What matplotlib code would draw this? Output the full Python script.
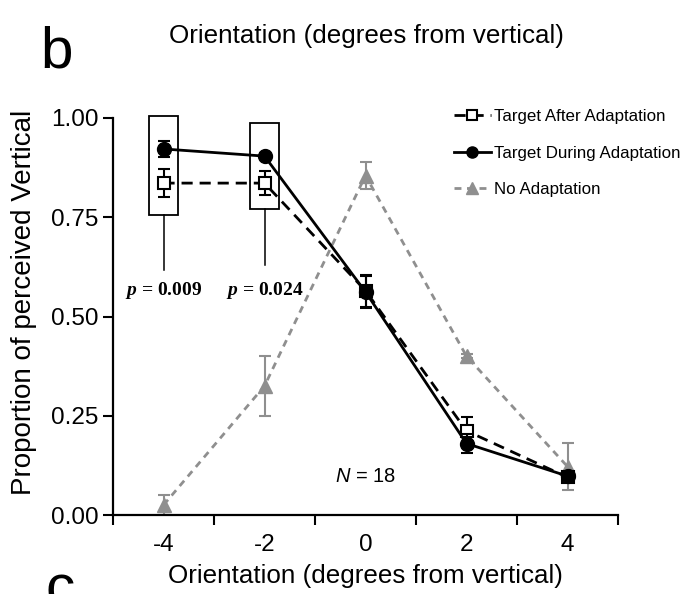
import numpy as np
import matplotlib.pyplot as plt
from matplotlib.patches import Rectangle

plt.rcParams["font.family"] = ["Liberation Sans", "DejaVu Sans"]
plt.rcParams["mathtext.fontset"] = "custom"
plt.rcParams["mathtext.it"] = "Liberation Sans:italic"
plt.rcParams["mathtext.bfit"] = "Liberation Serif:italic:bold"

ORIENT = ["-4", "-2", "0", "2", "4"]

AFTER = [0.836, 0.836, 0.565, 0.212, 0.095]
AFTER_ERR = [0.035, 0.03, 0.04, 0.035, 0.012]

DURING = [0.922, 0.904, 0.562, 0.180, 0.098]
DURING_ERR = [0.02, 0.008, 0.04, 0.025, 0.01]

NO_ADAPT = [0.025, 0.325, 0.855, 0.400, 0.122]
NO_ADAPT_ERR = [0.025, 0.075, 0.035, 0.005, 0.06]

# significance boxes: category index, box bottom/top, end of the stem below
BOX_IDX = [0, 1]
BOX_LO = [0.756, 0.771]
BOX_HI = [1.005, 0.987]
BOX_STEM = [0.617, 0.630]
P_TEXT = ["0.009", "0.024"]

x = np.arange(len(ORIENT)) + 0.5

fig = plt.figure(figsize=(6.89, 5.94), dpi=100)
ax = fig.add_axes([113 / 689, 79 / 594, 505 / 689, 397 / 594])

gray = "#8f8f8f"
ax.errorbar(x, NO_ADAPT, yerr=NO_ADAPT_ERR, fmt="none", ecolor=gray,
            elinewidth=1.5, capsize=4, capthick=1.5, zorder=2)
l3, = ax.plot(x, NO_ADAPT, color=gray, lw=2, ls=(0, (2.5, 2)), marker="^",
              ms=10, mfc=gray, mec=gray, zorder=2, label="No Adaptation")

ax.errorbar(x, AFTER, yerr=AFTER_ERR, fmt="none", ecolor="black",
            elinewidth=1.5, capsize=4, capthick=1.5, zorder=3)
l1, = ax.plot(x, AFTER, color="black", lw=2, ls=(0, (4, 2.5)), marker="s",
              ms=9, mfc="white", mec="black", mew=1.5, zorder=3,
              label="Target After Adaptation")

ax.errorbar(x, DURING, yerr=DURING_ERR, fmt="none", ecolor="black",
            elinewidth=1.5, capsize=4, capthick=1.5, zorder=4)
l2, = ax.plot(x, DURING, color="black", lw=2, ls="-", marker="o",
              ms=10, mfc="black", mec="black", zorder=4,
              label="Target During Adaptation")

for i, lo, hi, stem, p in zip(BOX_IDX, BOX_LO, BOX_HI, BOX_STEM, P_TEXT):
    xc = x[i]
    ax.add_patch(Rectangle((xc - 0.145, lo), 0.29, hi - lo, fill=False,
                           ec="black", lw=1.3, zorder=5, clip_on=False))
    ax.plot([xc, xc], [stem, lo], color="black", lw=1.1, zorder=5)
    ax.text(xc, 0.565, r"$\mathbfit{p}$" + " = " + p, ha="center",
            va="center", fontsize=14, fontweight="bold",
            family="Liberation Serif", zorder=6)

ax.text(x[2], 0.098, r"$\mathit{N}$ = 18", ha="center", va="center",
        fontsize=14.5)

ax.set_xlim(0, 5)
ax.set_ylim(0, 1)
ax.set_xticks(np.arange(0, 6))
ax.set_xticklabels([])
ax.set_xticks(x, minor=True)
ax.set_xticklabels(ORIENT, minor=True)
ax.tick_params(axis="x", which="major", direction="out", length=7, width=1.5)
ax.tick_params(axis="x", which="minor", length=0, pad=14, labelsize=17.5)
ax.set_yticks([0, 0.25, 0.5, 0.75, 1.0])
ax.set_yticklabels(["0.00", "0.25", "0.50", "0.75", "1.00"])
ax.tick_params(axis="y", direction="out", length=7, width=1.5, labelsize=17.5)

for s in ["top", "right"]:
    ax.spines[s].set_visible(False)
for s in ["left", "bottom"]:
    ax.spines[s].set_linewidth(1.6)

ax.set_xlabel("Orientation (degrees from vertical)", fontsize=18.7)
ax.xaxis.set_label_coords(0.5, -(576 - 515) / 397)
ax.xaxis.label.set_va("center")
ax.set_ylabel("Proportion of perceived Vertical", fontsize=20)
ax.yaxis.set_label_coords(-(113 - 24) / 505, (515 - 302) / 397)
ax.yaxis.label.set_va("center")

ax.legend(handles=[l1, l2, l3], loc="upper left",
          bbox_to_anchor=(334 / 505, 1.04), frameon=False, fontsize=12.2,
          handlelength=2.2, handletextpad=0.15, labelspacing=1.28,
          markerscale=0.8, borderaxespad=0)

fig.text(366 / 689, 1 - 36 / 594, "Orientation (degrees from vertical)",
         ha="center", va="center", fontsize=18.7)
fig.text(40 / 689, 1 - 68 / 594, "b", ha="left", va="baseline", fontsize=42)
fig.text(46 / 689, 1 - 605 / 594, "c", ha="left", va="baseline", fontsize=42)

fig.savefig("out.png", dpi=100)
